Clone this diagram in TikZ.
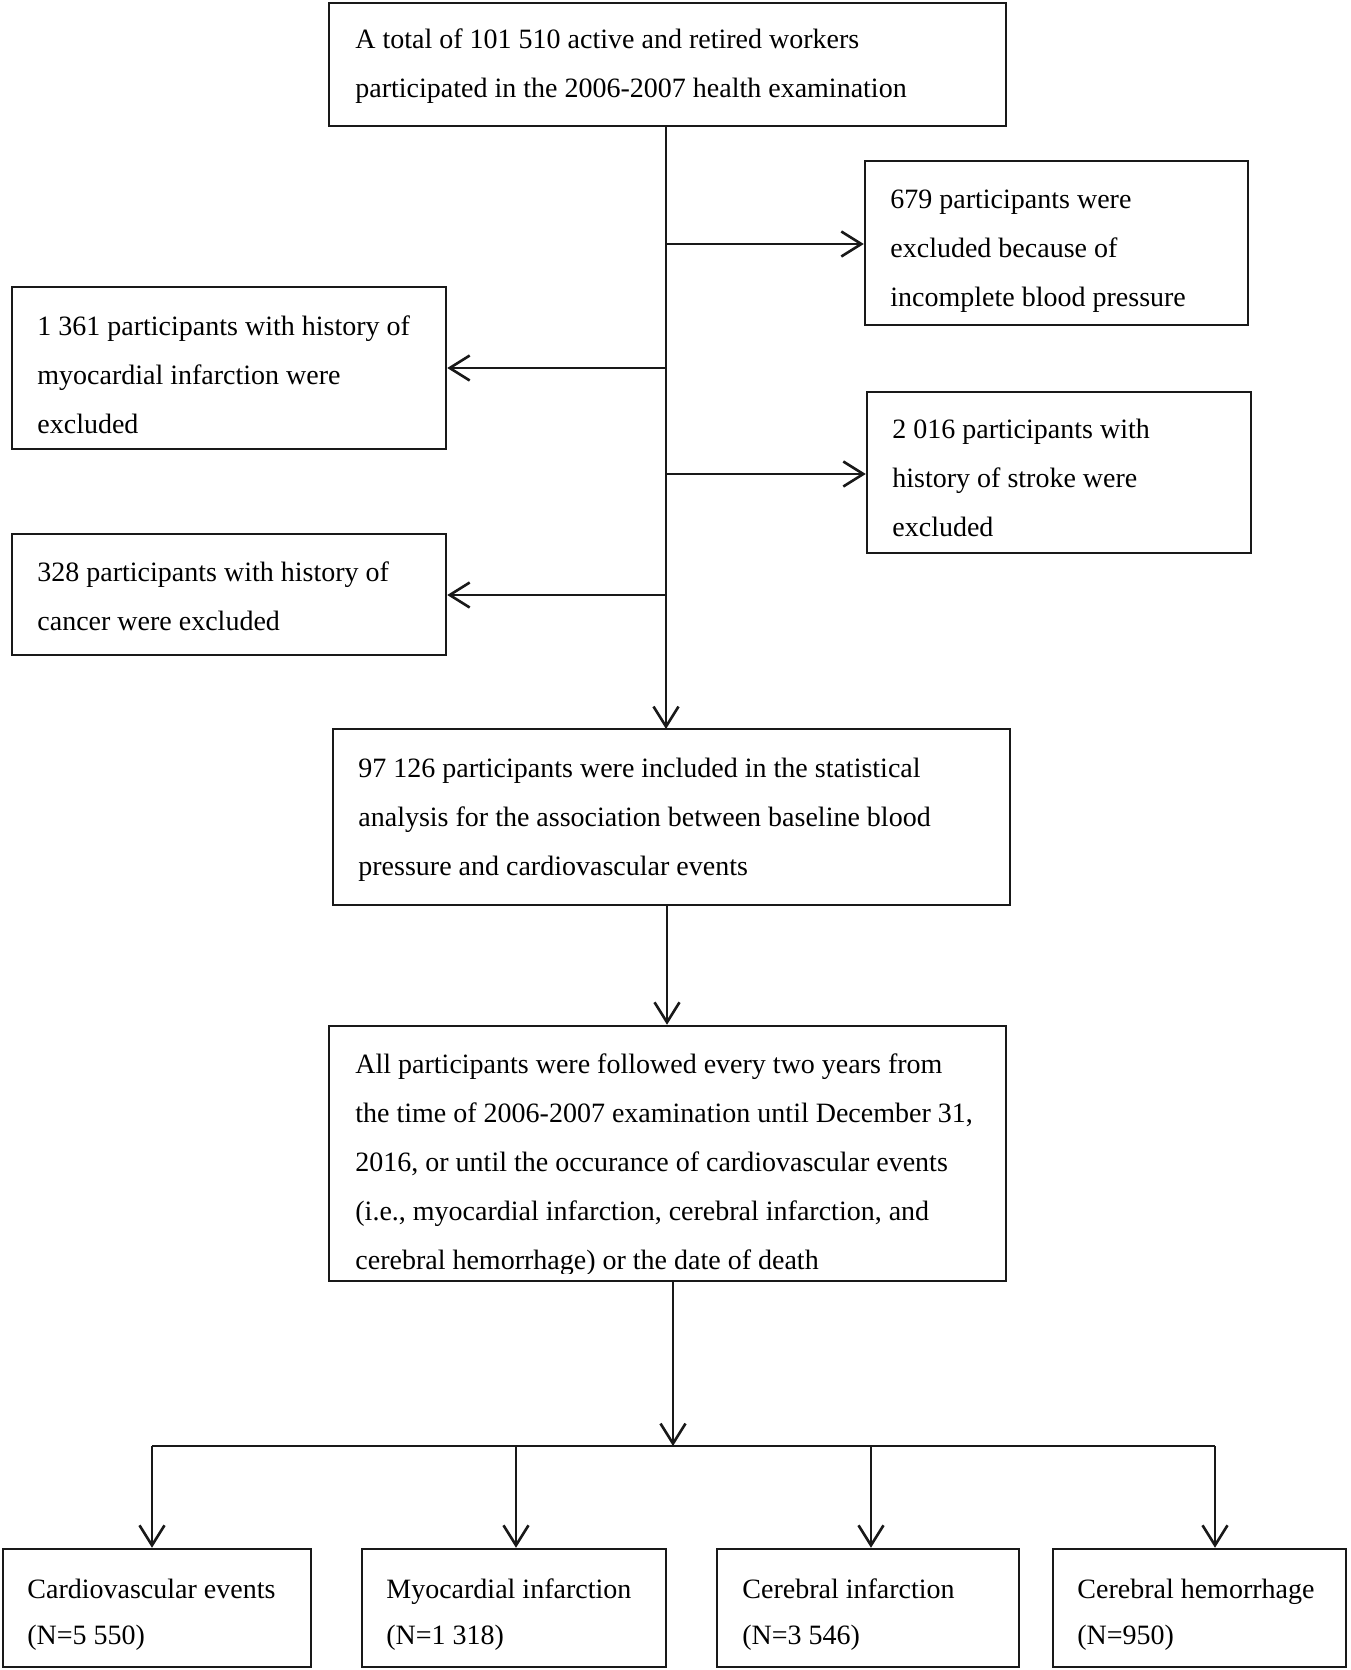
\documentclass[tikz,border=0pt]{standalone}
\usepackage{fontspec}
\setmainfont{Liberation Serif}
\usetikzlibrary{arrows.meta,fit}
\tikzset{
  box/.style={draw=black!90, line width=1.25pt, inner sep=0pt},
  txt/.style={inner sep=0pt, anchor=base west, font=\fontsize{14}{24.5}\selectfont},
  txtb/.style={inner sep=0pt, anchor=base west, font=\fontsize{14}{23}\selectfont},
  conn/.style={draw=black!90, line width=1.3pt},
  arr/.style={conn, -{Straight Barb[length=10pt,width=12.5pt,line width=1.3pt]}}
}
\newcommand\mylines[1]{\begin{tabular}[t]{@{}l@{}}#1\end{tabular}}
\begin{document}
\begin{tikzpicture}[x=0.5pt,y=-0.5pt]
\useasboundingbox (0,0) rectangle (1350,1670);
\fill[white] (0,0) rectangle (1350,1670);
% boxes
\node[box, fit={(329,3) (1006,126)}] (top) {};
\node[box, fit={(865,161) (1248,325)}] (r1) {};
\node[box, fit={(12,287) (446,449)}] (l1) {};
\node[box, fit={(867,392) (1251,553)}] (r2) {};
\node[box, fit={(12,534) (446,655)}] (l2) {};
\node[box, fit={(333,729) (1010,905)}] (b3) {};
\node[box, fit={(329,1026) (1006,1281)}] (b4) {};
\node[box, fit={(3,1549) (311,1667)}] (e1) {};
\node[box, fit={(362,1549) (666,1667)}] (e2) {};
\node[box, fit={(717,1549) (1019,1667)}] (e3) {};
\node[box, fit={(1053,1549) (1346,1667)}] (e4) {};
% texts
\node[txt] (topt) at (355,48) {\mylines{A total of 101 510 active and retired workers\\participated in the 2006-2007 health examination}};
\node[txt] (r1t) at (890,208) {\mylines{679 participants were\\excluded because of\\incomplete blood pressure}};
\node[txt] (l1t) at (37,335) {\mylines{1 361 participants with history of\\myocardial infarction were\\excluded}};
\node[txt] (r2t) at (892,438) {\mylines{2 016 participants with\\history of stroke were\\excluded}};
\node[txt] (l2t) at (37,581) {\mylines{328 participants with history of\\cancer were excluded}};
\node[txt] (b3t) at (358,777) {\mylines{97 126 participants were included in the statistical\\analysis for the association between baseline blood\\pressure and cardiovascular events}};
\begin{scope}
\clip (329,1026) rectangle (1006,1273);
\node[txt] (b4t) at (355,1073) {\mylines{All participants were followed every two years from\\the time of 2006-2007 examination until December 31,\\2016, or until the occurance of cardiovascular events\\(i.e., myocardial infarction, cerebral infarction, and\\cerebral hemorrhage) or the date of death}};
\end{scope}
\node[txtb] (e1t) at (27,1598) {\mylines{Cardiovascular events\\(N=5 550)}};
\node[txtb] (e2t) at (386,1598) {\mylines{Myocardial infarction\\(N=1 318)}};
\node[txtb] (e3t) at (742,1598) {\mylines{Cerebral infarction\\(N=3 546)}};
\node[txtb] (e4t) at (1077,1598) {\mylines{Cerebral hemorrhage\\(N=950)}};
% junctions
\coordinate (t0) at (666,126);
\coordinate (j1) at (666,244);
\coordinate (j2) at (666,368);
\coordinate (j3) at (666,474);
\coordinate (j4) at (666,595);
\coordinate (t1) at (666,729);
\coordinate (s3) at (667,905);
\coordinate (s4) at (673,1281);
\coordinate (bar) at (673,1446);
\coordinate (barL) at (152,1446);
\coordinate (barR) at (1215,1446);
\coordinate (d2) at (516,1446);
\coordinate (d3) at (871,1446);
% connectors
\draw[arr] (t0) -- (t1);
\draw[arr] (j1) -- (j1 -| r1.west);
\draw[arr] (j2) -- (j2 -| l1.east);
\draw[arr] (j3) -- (j3 -| r2.west);
\draw[arr] (j4) -- (j4 -| l2.east);
\draw[arr] (s3) -- (s3 |- b4.north);
\draw[arr] (s4) -- (bar);
\draw[conn] (barL) -- (barR);
\draw[arr] (barL) -- (barL |- e1.north);
\draw[arr] (d2) -- (d2 |- e2.north);
\draw[arr] (d3) -- (d3 |- e3.north);
\draw[arr] (barR) -- (barR |- e4.north);
\end{tikzpicture}
\end{document}
